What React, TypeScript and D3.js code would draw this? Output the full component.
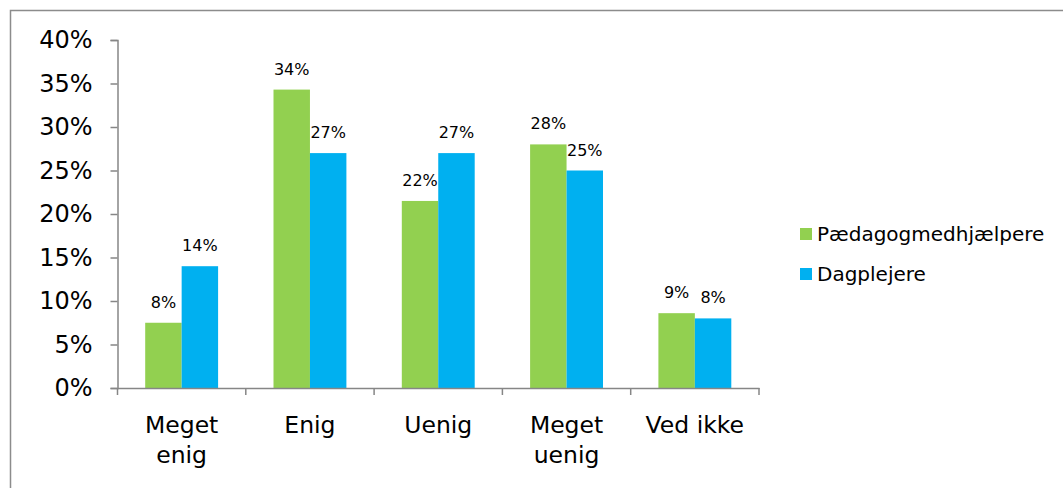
import * as d3 from "d3";
import { useEffect, useRef } from "react";

const categories = ["Meget enig", "Enig", "Uenig", "Meget uenig", "Ved ikke"];
const series = ["Pædagogmedhjælpere", "Dagplejere"];
const paedagog = [7.5, 34.3, 21.5, 28, 8.6];
const dagplejere = [14, 27, 27, 25, 8];
const paedagogLabels = ["8%", "34%", "22%", "28%", "9%"];
const dagplejereLabels = ["14%", "27%", "27%", "25%", "8%"];
const yTicks = [0, 5, 10, 15, 20, 25, 30, 35, 40];
const colors = ["#92d050", "#00b0f0"];

const W = 1063;
const H = 488;
const FONT = "'DejaVu Sans', Verdana, sans-serif";

export default function App() {
  const svgRef = useRef<SVGSVGElement>(null);

  useEffect(() => {
    const svg = d3.select(svgRef.current);
    svg.selectAll("*").remove();

    // outer frame
    svg
      .append("rect")
      .attr("x", 10.5)
      .attr("y", 10.5)
      .attr("width", W + 20)
      .attr("height", H + 20)
      .attr("fill", "white")
      .attr("stroke", "#8c8c8c")
      .attr("stroke-width", 1.5);

    const left = 117.5;
    const right = 759;
    const top = 40;
    const bottom = 388;

    const x = d3.scaleBand().domain(categories).range([left, right]).paddingInner(0).paddingOuter(0);
    const y = d3.scaleLinear().domain([0, 40]).range([bottom, top]);
    const inner = d3.scaleBand().domain(series).range([0, x.bandwidth()]).paddingOuter(0.76);

    const g = svg.append("g");

    // bars
    const data = [paedagog, dagplejere];
    const labels = [paedagogLabels, dagplejereLabels];
    series.forEach((s, si) => {
      g.selectAll(`.bar${si}`)
        .data(categories)
        .enter()
        .append("rect")
        .attr("x", (c) => (x(c) ?? 0) + (inner(s) ?? 0))
        .attr("y", (_, i) => y(data[si][i]))
        .attr("width", inner.bandwidth())
        .attr("height", (_, i) => bottom - y(data[si][i]))
        .attr("fill", colors[si]);

      g.selectAll(`.lab${si}`)
        .data(categories)
        .enter()
        .append("text")
        .attr("x", (c) => (x(c) ?? 0) + (inner(s) ?? 0) + inner.bandwidth() / 2)
        .attr("y", (_, i) => y(data[si][i]) - 15)
        .attr("text-anchor", "middle")
        .attr("font-family", FONT)
        .attr("font-size", 16)
        .attr("fill", "#000")
        .text((_, i) => labels[si][i]);
    });

    // y axis
    const yAxis = g
      .append("g")
      .attr("transform", `translate(${left},0)`)
      .call(
        d3
          .axisLeft(y)
          .tickValues(yTicks)
          .tickSize(7)
          .tickPadding(18)
          .tickFormat((d) => `${d}%`)
      );
    yAxis.select(".domain").attr("stroke", "#868686").attr("stroke-width", 1.5);
    yAxis.selectAll(".tick line").attr("stroke", "#868686").attr("stroke-width", 1.5);
    yAxis
      .selectAll(".tick text")
      .attr("font-family", FONT)
      .attr("font-size", 24)
      .attr("fill", "#000");

    // x axis
    const xAxis = g
      .append("g")
      .attr("transform", `translate(0,${bottom})`)
      .call(d3.axisBottom(x).tickSize(0).tickFormat(() => ""));
    xAxis.select(".domain").attr("stroke", "#868686").attr("stroke-width", 1.5);
    const boundaries = categories.map((c) => x(c) ?? 0).concat([right]);
    g.selectAll(".xtick")
      .data(boundaries)
      .enter()
      .append("line")
      .attr("x1", (d) => d)
      .attr("x2", (d) => d)
      .attr("y1", bottom)
      .attr("y2", bottom + 7)
      .attr("stroke", "#868686")
      .attr("stroke-width", 1.5);

    // category labels (wrapped)
    const wrapped: Record<string, string[]> = {
      "Meget enig": ["Meget", "enig"],
      "Meget uenig": ["Meget", "uenig"],
    };
    categories.forEach((c) => {
      const lines = wrapped[c] ?? [c];
      const t = g
        .append("text")
        .attr("x", (x(c) ?? 0) + x.bandwidth() / 2)
        .attr("y", 433)
        .attr("text-anchor", "middle")
        .attr("font-family", FONT)
        .attr("font-size", 23.5)
        .attr("fill", "#000");
      lines.forEach((l, i) => {
        t.append("tspan")
          .attr("x", (x(c) ?? 0) + x.bandwidth() / 2)
          .attr("dy", i === 0 ? 0 : 30)
          .text(l);
      });
    });

    // legend
    const legend = svg.append("g").attr("transform", "translate(800,228)");
    series.forEach((s, i) => {
      const row = legend.append("g").attr("transform", `translate(0,${i * 40})`);
      row.append("rect").attr("width", 12).attr("height", 12).attr("fill", colors[i]);
      row
        .append("text")
        .attr("x", 17)
        .attr("y", 12.5)
        .attr("font-family", FONT)
        .attr("font-size", 20)
        .attr("fill", "#000")
        .text(s);
    });
  }, []);

  return (
    <svg
      ref={svgRef}
      width={W}
      height={H}
      style={{ position: "absolute", left: 0, top: 0 }}
    />
  );
}
